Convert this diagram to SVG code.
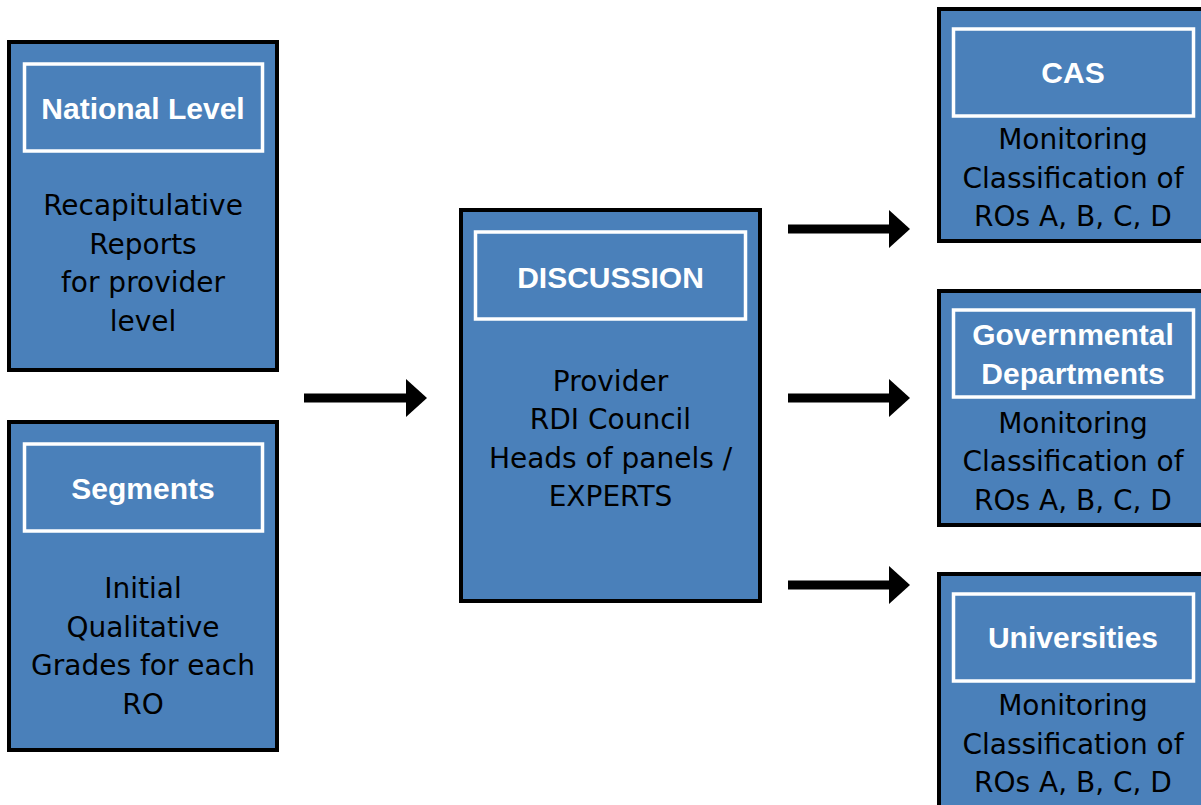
<svg xmlns="http://www.w3.org/2000/svg" width="1201" height="805" viewBox="0 0 1201 805">
  <style>
    .box { fill: #4A80BA; stroke: #000; stroke-width: 4; }
    .hdr { fill: none; stroke: #fff; stroke-width: 3.5; }
    .title { font-family: "Liberation Sans", Arial, sans-serif; font-weight: bold; font-size: 30px; fill: #fff; text-anchor: middle; }
    .body { font-family: "DejaVu Sans", sans-serif; font-size: 28px; fill: #000; text-anchor: middle; }
    .conn { stroke: #000; stroke-width: 9; fill: none; }
  </style>
  <defs>
    <marker id="head" markerUnits="userSpaceOnUse" markerWidth="22" markerHeight="38" refX="1" refY="19" orient="auto">
      <path d="M0,0 L21,19 L0,38 Z" fill="#000"/>
    </marker>
  </defs>
  <rect width="1201" height="805" fill="#fff"/>

  <g id="national-level">
    <rect class="box" x="9" y="42" width="268" height="328"/>
    <rect class="hdr" x="24.5" y="64" width="238" height="87"/>
    <text class="title" x="143" y="119">National Level</text>
    <text class="body" x="143" y="215">Recapitulative</text>
    <text class="body" x="143" y="253.5">Reports</text>
    <text class="body" x="143" y="292">for provider</text>
    <text class="body" x="143" y="330.5">level</text>
  </g>

  <g id="segments">
    <rect class="box" x="9" y="422" width="268" height="328"/>
    <rect class="hdr" x="24.5" y="444" width="238" height="87"/>
    <text class="title" x="143" y="499">Segments</text>
    <text class="body" x="143" y="598">Initial</text>
    <text class="body" x="143" y="637">Qualitative</text>
    <text class="body" x="143" y="675">Grades for each</text>
    <text class="body" x="143" y="714">RO</text>
  </g>

  <g id="discussion">
    <rect class="box" x="461" y="210" width="299" height="391"/>
    <rect class="hdr" x="475.5" y="232" width="270" height="87"/>
    <text class="title" x="610.5" y="288">DISCUSSION</text>
    <text class="body" x="610.5" y="391">Provider</text>
    <text class="body" x="610.5" y="429">RDI Council</text>
    <text class="body" x="610.5" y="467.5">Heads of panels /</text>
    <text class="body" x="610.5" y="506">EXPERTS</text>
  </g>

  <g id="cas">
    <rect class="box" x="939" y="9" width="280" height="232"/>
    <rect class="hdr" x="953.5" y="29" width="240" height="87"/>
    <text class="title" x="1073" y="83">CAS</text>
    <text class="body" x="1073" y="149">Monitoring</text>
    <text class="body" x="1073" y="188">Classification of</text>
    <text class="body" x="1073" y="226">ROs A, B, C, D</text>
  </g>

  <g id="governmental-departments">
    <rect class="box" x="939" y="291" width="280" height="234"/>
    <rect class="hdr" x="953.5" y="310" width="240" height="87"/>
    <text class="title" x="1073" y="345">Governmental</text>
    <text class="title" x="1073" y="384">Departments</text>
    <text class="body" x="1073" y="433">Monitoring</text>
    <text class="body" x="1073" y="471">Classification of</text>
    <text class="body" x="1073" y="510">ROs A, B, C, D</text>
  </g>

  <g id="universities">
    <rect class="box" x="939" y="574" width="280" height="300"/>
    <rect class="hdr" x="953.5" y="594" width="240" height="87"/>
    <text class="title" x="1073" y="648">Universities</text>
    <text class="body" x="1073" y="715">Monitoring</text>
    <text class="body" x="1073" y="754">Classification of</text>
    <text class="body" x="1073" y="792">ROs A, B, C, D</text>
  </g>

  <g id="connectors">
    <line class="conn" x1="304" y1="398" x2="407" y2="398" marker-end="url(#head)"/>
    <line class="conn" x1="788" y1="229" x2="890" y2="229" marker-end="url(#head)"/>
    <line class="conn" x1="788" y1="398" x2="890" y2="398" marker-end="url(#head)"/>
    <line class="conn" x1="788" y1="585" x2="890" y2="585" marker-end="url(#head)"/>
  </g>
</svg>
